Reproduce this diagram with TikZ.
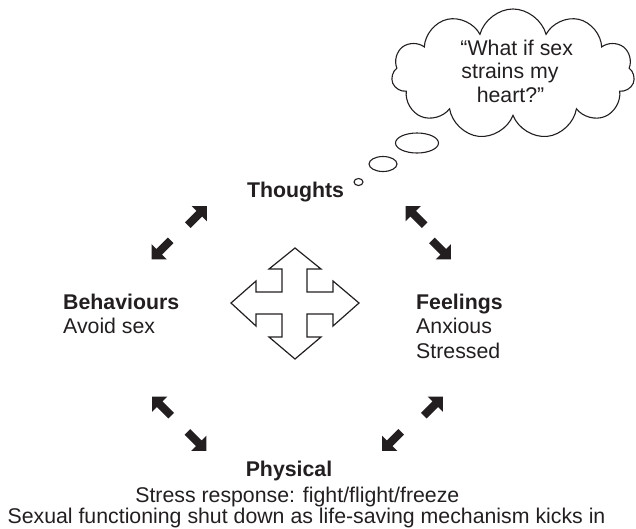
\documentclass[tikz,border=0pt]{standalone}
\usepackage{fontspec}
\setmainfont{Liberation Sans}
\usetikzlibrary{shapes.symbols,shapes.geometric}
\definecolor{ink}{RGB}{35,31,32}
\tikzset{
  lbl/.style={inner sep=0pt, text=ink, font=\fontsize{21.3}{25}\selectfont},
  hd/.style={lbl, font=\fontsize{21.3}{25}\selectfont\bfseries},
  bub/.style={ellipse, draw=ink, line width=1.1pt, inner sep=0pt},
  quad/.style={draw=ink, line width=1.2pt, fill=white, line join=miter},
  harrow/.pic={\fill[ink] (15.5,0) -- (4.7,10.8) -- (4.7,4) -- (-11.5,4) -- (-11.5,-4) -- (4.7,-4) -- (4.7,-10.8) -- cycle;},
}
\begin{document}
\begin{tikzpicture}[x=1pt,y=-1pt]
\useasboundingbox (0,0) rectangle (636,528);

% thought cloud and bubbles
\node[cloud, draw=ink, line width=1.1pt, cloud puffs=11, aspect=1.9,
      minimum width=243pt, minimum height=130pt, inner sep=0pt] (cloud) at (513,74) {};
\node[lbl, anchor=base] (c1) at (516.7,55) {“What if sex};
\node[lbl, anchor=base] (c2) at (510,78.5) {strains my};
\node[lbl, anchor=base] (c3) at (510.5,102) {heart?”};
\node[bub, minimum width=43pt, minimum height=20pt] (b1) at (417,143) {};
\node[bub, minimum width=28pt, minimum height=15pt] (b2) at (383,164) {};
\node[bub, minimum width=9pt, minimum height=7pt] (b3) at (358.5,182) {};

% labels
\node[hd, anchor=base] (thoughts) at (295.5,197) {Thoughts};
\node[hd, anchor=base west] (beh) at (63,309) {Behaviours};
\node[lbl, anchor=base west] (beh1) at (63,333) {Avoid sex};
\node[hd, anchor=base west] (feel) at (416,309) {Feelings};
\node[lbl, anchor=base west] (feel1) at (416,333) {Anxious};
\node[lbl, anchor=base west] (feel2) at (416,358) {Stressed};
\node[hd, anchor=base] (phys) at (289,476) {Physical};
\node[lbl, anchor=base] (phys1) at (297.3,502) {Stress response: fight/flight/freeze};
\node[lbl, anchor=base] (phys2) at (306.5,523) {Sexual functioning shut down as life-saving mechanism kicks in};

% four-way arrow
\draw[quad] (295,248) -- (321,269) -- (307,269) -- (307,292) -- (333,292) -- (333,281)
  -- (359,303) -- (333,326) -- (333,314) -- (307,314) -- (307,337) -- (321,337)
  -- (295,359) -- (269,337) -- (282,337) -- (282,314) -- (256,314) -- (256,326)
  -- (231,303) -- (256,281) -- (256,292) -- (282,292) -- (282,269) -- (269,269) -- cycle;

% small heavy arrows
\pic[rotate=45]  at (196,217)   {harrow};
\pic[rotate=225] at (162.5,248.5) {harrow};
\pic[rotate=135] at (416.5,217) {harrow};
\pic[rotate=-45] at (440,248.5) {harrow};
\pic[rotate=135] at (163,407.5) {harrow};
\pic[rotate=-45] at (195.5,440) {harrow};
\pic[rotate=45]  at (432,407.5) {harrow};
\pic[rotate=225] at (393,440)   {harrow};
\end{tikzpicture}
\end{document}
